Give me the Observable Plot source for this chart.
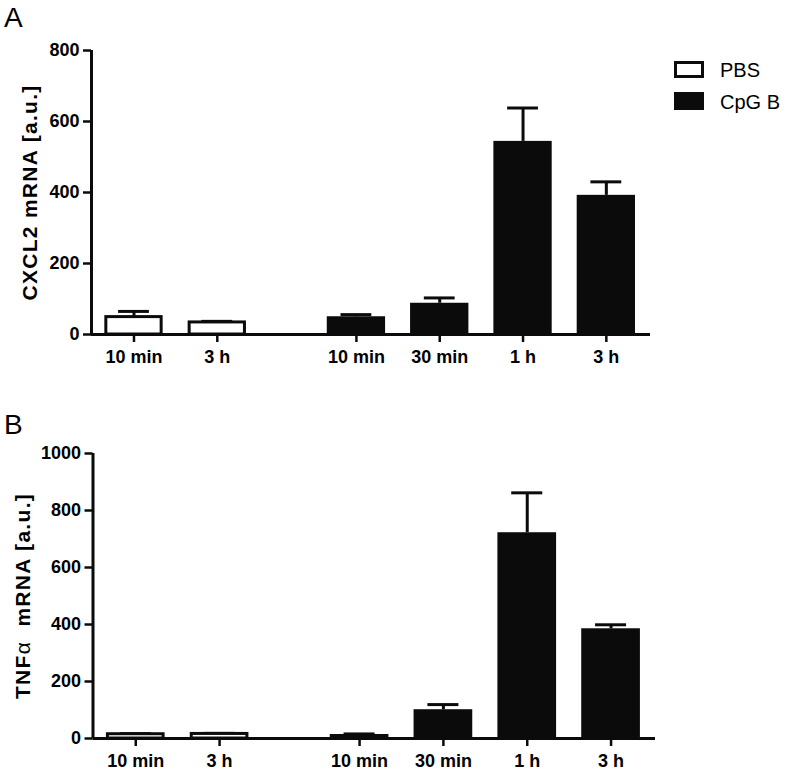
<!DOCTYPE html>
<html><head><meta charset="utf-8">
<script src="https://cdn.jsdelivr.net/npm/d3@7"></script>
<script src="https://cdn.jsdelivr.net/npm/@observablehq/plot@0.6"></script>
<style>
body{margin:0;background:#fff;}
#fig{position:relative;width:786px;height:772px;font-family:"Liberation Sans",Arial,Helvetica,sans-serif;color:#000;overflow:hidden;}
.pl{position:absolute;left:0;}
.pl text{font-family:"Liberation Sans",Arial,Helvetica,sans-serif;}
.panel{position:absolute;font-size:28px;line-height:28px;}
.leg{position:absolute;font-size:20px;line-height:20px;white-space:nowrap;}
.box{position:absolute;box-sizing:border-box;width:30px;}
</style></head><body><div id="fig"></div>
<script>
// ---- data ----
const groups = ["PBS", "PBS", "CpG B", "CpG B", "CpG B", "CpG B"];
const times = ["10 min", "3 h", "10 min", "30 min", "1 h", "3 h"];
const cxcl2Mean = [49, 34, 50, 88, 544, 392];
const cxcl2Err = [16, 3, 6, 15, 94, 38];
const tnfMean = [15, 16, 14, 101, 722, 385];
const tnfErr = [2, 2, 2, 18, 140, 14];
const cxcl2Ticks = [0, 200, 400, 600, 800];
const tnfTicks = [0, 200, 400, 600, 800, 1000];
const legendLabels = ["PBS", "CpG B"];

// ---- layout constants ----
const GAP = 0.67, HALF = 0.35, CAP = 0.185, XMIN = -0.51, XMAX = 6.2;
const INK = "#0b0b0b";
const FONT = '"Liberation Sans", Arial, Helvetica, sans-serif';

function makeRows(means, errs) {
  return times.map((t, i) => ({
    group: groups[i], time: t, mean: means[i], err: errs[i],
    pos: i + (groups[i] === "CpG B" ? GAP : 0)
  }));
}

function panel({means, errs, ticks, label, labelDx, marginLeft, marginRight, marginTop, marginBottom, height}) {
  const data = makeRows(means, errs);
  const yMax = ticks[ticks.length - 1];
  const pos = data.map(d => d.pos);
  const lab = new Map(data.map(d => [d.pos, d.time]));
  const svg = Plot.plot({
    width: 786, height, marginLeft, marginRight, marginTop, marginBottom,
    style: `font-family: ${FONT}; font-size: 18px; font-weight: bold; color: #000; background: transparent; overflow: visible;`,
    x: {type: "linear", domain: [XMIN, XMAX]},
    y: {domain: [0, yMax]},
    marks: [
      Plot.ruleX(data, {x: "pos", y1: "mean", y2: d => d.mean + d.err, stroke: INK, strokeWidth: 3}),
      Plot.ruleY(data, {y: d => d.mean + d.err, x1: d => d.pos - CAP, x2: d => d.pos + CAP, stroke: INK, strokeWidth: 3}),
      Plot.rect(data.filter(d => d.group === "PBS"), {x1: d => d.pos - HALF, x2: d => d.pos + HALF, y1: 0, y2: "mean", fill: "white", stroke: INK, strokeWidth: 3, insetLeft: 1.5, insetRight: 1.5}),
      Plot.rect(data.filter(d => d.group !== "PBS"), {x1: d => d.pos - HALF, x2: d => d.pos + HALF, y1: 0, y2: "mean", fill: INK}),
      Plot.ruleX([XMIN], {y1: 0, y2: yMax, stroke: INK, strokeWidth: 3}),
      Plot.ruleY([0], {stroke: INK, strokeWidth: 3}),
      Plot.axisY({ticks, tickFormat: d => String(d), tickSize: 8, tickPadding: 4, stroke: INK, strokeWidth: 2.5, label: null, fontSize: 18, fontWeight: "bold", fontFamily: FONT}),
      Plot.axisX({ticks: pos, tickFormat: d => lab.get(d), tickSize: 8, tickPadding: 8, stroke: INK, strokeWidth: 2.5, label: null, fontSize: 18, fontWeight: "bold", fontFamily: FONT}),
      Plot.text([label], {text: d => d, frameAnchor: "left", rotate: -90, dx: labelDx, fontSize: 21, fontWeight: "bold", fontFamily: FONT, lineAnchor: "middle", textAnchor: "middle"})
    ]
  });
  svg.querySelectorAll("text").forEach(t => {
    if (t.textContent === label) {
      t.setAttribute("letter-spacing", "1.3");
      if (label.includes("α")) {
        const [a, b] = label.split("α");
        t.textContent = "";
        const ns = "http://www.w3.org/2000/svg";
        const s1 = document.createElementNS(ns, "tspan"); s1.textContent = a;
        const s2 = document.createElementNS(ns, "tspan"); s2.textContent = "α"; s2.setAttribute("font-weight", "normal");
        const s3 = document.createElementNS(ns, "tspan"); s3.textContent = "\u00a0" + b;
        t.append(s1, s2, s3);
      }
    }
  });
  return svg;
}

const fig = document.getElementById("fig");

const a = panel({means: cxcl2Mean, errs: cxcl2Err, ticks: cxcl2Ticks, label: "CXCL2 mRNA [a.u.]", labelDx: -61.5,
  marginLeft: 91, marginRight: 136, marginTop: 50, marginBottom: 38, height: 372});
a.classList.add("pl"); a.style.top = "0px";
fig.appendChild(a);

const b = panel({means: tnfMean, errs: tnfErr, ticks: tnfTicks, label: "TNFα mRNA [a.u.]", labelDx: -70,
  marginLeft: 92.5, marginRight: 131, marginTop: 81, marginBottom: 34, height: 400});
b.classList.add("pl"); b.style.top = "372px";
fig.appendChild(b);

function div(cls, css, text) {
  const d = document.createElement("div");
  d.className = cls; d.style.cssText = css;
  if (text != null) d.textContent = text;
  fig.appendChild(d);
}
div("panel", "left:4px;top:4px;", "A");
div("panel", "left:4px;top:411px;", "B");
div("box", `left:674px;top:61px;height:17px;border:3px solid ${INK};background:#fff;`);
div("box", `left:674px;top:92px;height:18px;background:${INK};`);
div("leg", "left:720px;top:60px;", legendLabels[0]);
div("leg", "left:720px;top:92px;", legendLabels[1]);
</script></body></html>
